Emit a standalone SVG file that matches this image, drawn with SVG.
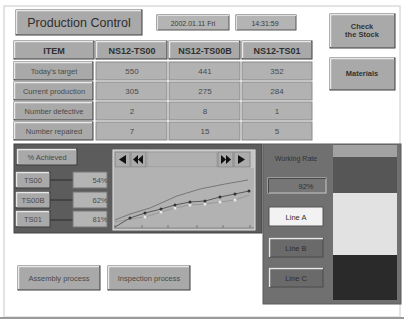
<svg xmlns="http://www.w3.org/2000/svg" width="404" height="320" viewBox="0 0 404 320">
<defs>
<style>
text{font-family:"Liberation Sans","DejaVu Sans",sans-serif;}
.btn{fill:#a9a9a9;stroke:#3c3c3c;stroke-width:1;}
.hl{fill:none;stroke:#e8e8e8;stroke-width:1.5;}
.cell{fill:#b2b2b2;stroke:#8a8a8a;stroke-width:1;}
.lbl{font-size:7.5px;fill:#4a4a4a;text-anchor:middle;}
.dk{font-size:7.5px;fill:#2e2e2e;text-anchor:middle;}
.val{font-size:8px;fill:#4a4a4a;text-anchor:middle;}
.hdr{font-size:9px;font-weight:bold;fill:#303030;text-anchor:middle;}
.sm{font-size:7px;fill:#3a3a3a;text-anchor:middle;}
</style>
</defs>
<rect x="0" y="0" width="404" height="320" fill="#ffffff"/>
<rect x="4" y="6" width="396" height="311" fill="none" stroke="#dcdcdc" stroke-width="1.5"/>
<line x1="0" y1="318" x2="404" y2="318" stroke="#9a9a9a" stroke-width="2"/>

<g id="title">
<rect class="btn" x="16" y="10" width="126" height="25"/>
<polyline class="hl" points="16.5,34 16.5,10.5 141,10.5"/>
<text x="79" y="27" font-size="12.5" fill="#2e2e2e" text-anchor="middle">Production Control</text>
</g>
<g id="date">
<rect x="157" y="15" width="72" height="15" fill="#b4b4b4" stroke="#555"/>
<polyline points="157.5,30 157.5,15.5 229,15.5" fill="none" stroke="#e0e0e0"/>
<text class="sm" x="193" y="25.5">2002.01.11 Fri</text>
</g>
<g id="time">
<rect x="236" y="15" width="60" height="15" fill="#b4b4b4" stroke="#555"/>
<polyline points="236.5,30 236.5,15.5 296,15.5" fill="none" stroke="#e0e0e0"/>
<text class="sm" x="265" y="25.5">14:31:59</text>
</g>
<g id="check-stock">
<rect class="btn" x="330" y="14" width="65" height="34"/>
<polyline class="hl" points="330.5,47 330.5,14.5 394,14.5"/>
<text x="362" y="29" font-size="7.5" font-weight="bold" fill="#333" text-anchor="middle">Check</text>
<text x="362" y="37" font-size="7.5" font-weight="bold" fill="#333" text-anchor="middle">the Stock</text>
</g>
<g id="materials">
<rect class="btn" x="330" y="58" width="65" height="32"/>
<polyline class="hl" points="330.5,89 330.5,58.5 394,58.5"/>
<text x="362" y="76" font-size="7.5" font-weight="bold" fill="#333" text-anchor="middle">Materials</text>
</g>

<g id="table">
<rect class="btn" x="14" y="41" width="80" height="18"/>
<polyline class="hl" points="14.5,58 14.5,41.5 93,41.5"/>
<text class="hdr" x="54" y="53.5">ITEM</text>
<rect class="btn" x="96" y="41" width="71" height="18"/>
<polyline class="hl" points="96.5,58 96.5,41.5 166,41.5"/>
<text class="hdr" x="132" y="53.5">NS12-TS00</text>
<rect class="btn" x="169" y="41" width="71" height="18"/>
<polyline class="hl" points="169.5,58 169.5,41.5 239,41.5"/>
<text class="hdr" x="205" y="53.5">NS12-TS00B</text>
<rect class="btn" x="242" y="41" width="70" height="18"/>
<polyline class="hl" points="242.5,58 242.5,41.5 311,41.5"/>
<text class="hdr" x="277" y="53.5">NS12-TS01</text>

<rect class="btn" x="14" y="62" width="79" height="18"/>
<polyline class="hl" points="14.5,79 14.5,62.5 92,62.5"/>
<text class="lbl" x="54" y="74">Today's target</text>
<rect class="cell" x="96" y="62" width="71" height="18"/>
<rect class="cell" x="169" y="62" width="71" height="18"/>
<rect class="cell" x="242" y="62" width="70" height="18"/>
<text class="val" x="132" y="74">550</text>
<text class="val" x="205" y="74">441</text>
<text class="val" x="277" y="74">352</text>

<rect class="btn" x="14" y="82" width="79" height="18"/>
<polyline class="hl" points="14.5,99 14.5,82.5 92,82.5"/>
<text class="lbl" x="54" y="94">Current production</text>
<rect class="cell" x="96" y="82" width="71" height="18"/>
<rect class="cell" x="169" y="82" width="71" height="18"/>
<rect class="cell" x="242" y="82" width="70" height="18"/>
<text class="val" x="132" y="94">305</text>
<text class="val" x="205" y="94">275</text>
<text class="val" x="277" y="94">284</text>

<rect class="btn" x="14" y="102" width="79" height="18"/>
<polyline class="hl" points="14.5,119 14.5,102.5 92,102.5"/>
<text class="lbl" x="54" y="114">Number defective</text>
<rect class="cell" x="96" y="102" width="71" height="18"/>
<rect class="cell" x="169" y="102" width="71" height="18"/>
<rect class="cell" x="242" y="102" width="70" height="18"/>
<text class="val" x="132" y="114">2</text>
<text class="val" x="205" y="114">8</text>
<text class="val" x="277" y="114">1</text>

<rect class="btn" x="14" y="122" width="79" height="18"/>
<polyline class="hl" points="14.5,139 14.5,122.5 92,122.5"/>
<text class="lbl" x="54" y="134">Number repaired</text>
<rect class="cell" x="96" y="122" width="71" height="18"/>
<rect class="cell" x="169" y="122" width="71" height="18"/>
<rect class="cell" x="242" y="122" width="70" height="18"/>
<text class="val" x="132" y="134">7</text>
<text class="val" x="205" y="134">15</text>
<text class="val" x="277" y="134">5</text>
</g>

<g id="achieved-panel">
<rect x="14" y="144" width="248" height="89" fill="#5c5c5c" stroke="#444"/>
<rect class="btn" x="17" y="149" width="60" height="16"/>
<polyline class="hl" points="17.5,164 17.5,149.5 76,149.5"/>
<text class="lbl" x="47" y="160">% Achieved</text>

<line x1="50" y1="180" x2="73" y2="180" stroke="#2a2a2a"/>
<line x1="50" y1="200" x2="73" y2="200" stroke="#2a2a2a"/>
<line x1="50" y1="220" x2="73" y2="220" stroke="#2a2a2a"/>

<rect class="btn" x="16" y="172" width="34" height="16"/>
<polyline class="hl" points="16.5,187 16.5,172.5 49,172.5"/>
<text class="lbl" x="33" y="183">TS00</text>
<rect x="73" y="172" width="34" height="16" fill="#b4b4b4" stroke="#777"/>
<text class="lbl" x="100" y="183" text-anchor="end">54%</text>

<rect class="btn" x="16" y="192" width="34" height="16"/>
<polyline class="hl" points="16.5,207 16.5,192.5 49,192.5"/>
<text class="lbl" x="33" y="203">TS00B</text>
<rect x="73" y="192" width="34" height="16" fill="#b4b4b4" stroke="#777"/>
<text class="lbl" x="100" y="203" text-anchor="end">62%</text>

<rect class="btn" x="16" y="211" width="34" height="16"/>
<polyline class="hl" points="16.5,226 16.5,211.5 49,211.5"/>
<text class="lbl" x="33" y="222">TS01</text>
<rect x="73" y="211" width="34" height="16" fill="#b4b4b4" stroke="#777"/>
<text class="lbl" x="100" y="222" text-anchor="end">81%</text>
</g>

<g id="chart">
<rect x="113" y="150" width="142" height="80" fill="#b2b2b2" stroke="#e6e6e6"/>
<rect x="114" y="151" width="140" height="17" fill="#c4c4c4"/>
<rect x="115" y="152" width="15" height="15" fill="#acacac" stroke="#888"/>
<path d="M126,155 L126,164 L119,159.5 Z" fill="#111"/>
<rect x="131" y="152" width="15" height="15" fill="#acacac" stroke="#888"/>
<path d="M138,155 L138,164 L133,159.5 Z M143,155 L143,164 L138,159.5 Z" fill="#111"/>
<rect x="147" y="152" width="70" height="15" fill="#b0b0b0" stroke="#999"/>
<rect x="218" y="152" width="15" height="15" fill="#acacac" stroke="#888"/>
<path d="M221,155 L221,164 L226,159.5 Z M226,155 L226,164 L231,159.5 Z" fill="#111"/>
<rect x="234" y="152" width="16" height="15" fill="#acacac" stroke="#888"/>
<path d="M238,155 L238,164 L245,159.5 Z" fill="#111"/>
<line x1="114" y1="228" x2="254" y2="228" stroke="#888"/>
<g stroke="#777" stroke-width="1">
<line x1="115" y1="225" x2="115" y2="228"/>
<line x1="142" y1="225" x2="142" y2="228"/>
<line x1="168" y1="225" x2="168" y2="228"/>
<line x1="197" y1="225" x2="197" y2="228"/>
<line x1="223" y1="225" x2="223" y2="228"/>
<line x1="250" y1="225" x2="250" y2="228"/>
</g>
<polyline points="115,220 130,214 150,208 177,196 200,189 225,184 248,180" fill="none" stroke="#777"/>
<polyline points="115,222 130,219 145,217 161,212 175,208 190,205 205,204 220,202 235,200 249,195" fill="none" stroke="#999"/>
<polyline points="115,227 130,218 145,213 161,209 175,205 190,202 205,201 220,197 235,194 249,191" fill="none" stroke="#5a5a5a"/>
<g fill="#e8e8e8">
<circle cx="145" cy="217" r="1.5"/><circle cx="161" cy="212" r="1.5"/><circle cx="175" cy="208" r="1.5"/><circle cx="190" cy="205" r="1.5"/><circle cx="205" cy="204" r="1.5"/><circle cx="220" cy="202" r="1.5"/><circle cx="235" cy="200" r="1.5"/>
</g>
<g fill="#333">
<circle cx="130" cy="218" r="1.5"/><circle cx="145" cy="213" r="1.5"/><circle cx="161" cy="209" r="1.5"/><circle cx="175" cy="205" r="1.5"/><circle cx="190" cy="202" r="1.5"/><circle cx="205" cy="201" r="1.5"/><circle cx="220" cy="197" r="1.5"/><circle cx="235" cy="194" r="1.5"/><circle cx="249" cy="191" r="1.5"/>
</g>
</g>

<g id="working-rate">
<rect x="263" y="144" width="138" height="160" fill="#707070" stroke="#5a5a5a"/>
<text x="296" y="161" font-size="7" fill="#333" text-anchor="middle">Working Rate</text>
<rect x="268" y="178" width="58" height="15" fill="#767676" stroke="#c8c8c8"/>
<polyline points="268.5,193 268.5,178.5 326,178.5" fill="none" stroke="#4a4a4a"/>
<text class="dk" x="306" y="188.5">92%</text>
<rect x="269" y="207" width="54" height="19" fill="#f2f2f2" stroke="#555"/>
<text class="dk" x="296" y="219.5">Line A</text>
<rect x="269" y="238" width="54" height="19" fill="#6a6a6a" stroke="#4a4a4a"/>
<polyline points="269.5,257 269.5,238.5 323,238.5" fill="none" stroke="#e8e8e8" stroke-width="1.5"/>
<text class="dk" x="296" y="250.5">Line B</text>
<rect x="269" y="268" width="54" height="19" fill="#6a6a6a" stroke="#4a4a4a"/>
<polyline points="269.5,287 269.5,268.5 323,268.5" fill="none" stroke="#e8e8e8" stroke-width="1.5"/>
<text class="dk" x="296" y="280.5">Line C</text>
<rect x="333" y="145" width="64" height="12" fill="#a2a2a2"/>
<rect x="333" y="157" width="64" height="36" fill="#565656"/>
<rect x="333" y="193" width="64" height="62" fill="#e2e2e2"/>
<rect x="333" y="255" width="64" height="45" fill="#2a2a2a"/>
</g>

<g id="assembly">
<rect class="btn" x="18" y="266" width="82" height="24"/>
<polyline class="hl" points="18.5,289 18.5,266.5 99,266.5"/>
<text class="lbl" x="59" y="281">Assembly process</text>
</g>
<g id="inspection">
<rect class="btn" x="108" y="266" width="82" height="24"/>
<polyline class="hl" points="108.5,289 108.5,266.5 189,266.5"/>
<text class="lbl" x="149" y="281">Inspection process</text>
</g>
</svg>
